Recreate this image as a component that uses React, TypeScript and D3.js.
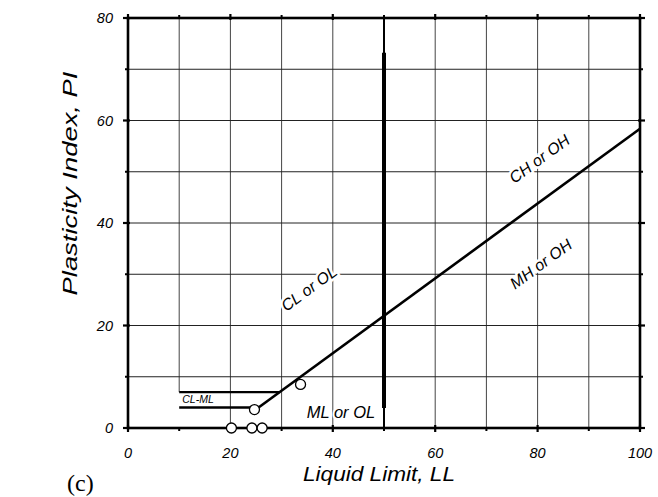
import React from "react";
import * as d3 from "d3";

const W = 658;
const H = 497;

// Axis ticks
const llMajorTicks = [0, 20, 40, 60, 80, 100];
const llMinorTicks = [10, 30, 50, 70, 90];
const piMajorTicks = [0, 20, 40, 60, 80];
const piMinorTicks = [10, 30, 50, 70];
const llGrid = [10, 20, 30, 40, 50, 60, 70, 80, 90];
const piGrid = [10, 20, 30, 40, 50, 60, 70];

// A-line (PI = 0.73 (LL - 20))
const aLineLL = [25.5, 100];
const aLinePI = [4, 58.4];

// CL-ML zone boundaries
const clmlLowLL = [10, 25.5];
const clmlLowPI = [4, 4];
const clmlHighLL = [10, 29.6];
const clmlHighPI = [7, 7];

// LL = 50 boundary (thick part)
const uLineLL = [50, 50];
const uLinePI = [73.2, 3.9];

// Sample points
const sampleLL = [20.2, 24.2, 26.2, 24.7, 33.7];
const samplePI = [0, 0, 0, 3.6, 8.5];

// Zone labels
const zoneNames = ["CL or OL", "CH or OH", "MH or OH"];
const zoneLL = [35.5, 80.5, 80.8];
const zonePI = [27, 52.3, 31.8];

const FONT = "'Liberation Sans', Arial, sans-serif";

export default function App() {
  const x = d3.scaleLinear().domain([0, 100]).range([128, 640]);
  const y = d3.scaleLinear().domain([0, 80]).range([428, 18]);
  const line = d3
    .line<[number, number]>()
    .x((d) => x(d[0]))
    .y((d) => y(d[1]));
  const pairs = (a: number[], b: number[]) =>
    a.map((v, i) => [v, b[i]] as [number, number]);

  const angle = (-Math.atan(0.73 * ((y(0) - y(1)) / (x(1) - x(0)))) * 180) / Math.PI;

  return (
    <svg
      width={W}
      height={H}
      style={{ position: "absolute", left: 0, top: 0, background: "#fff" }}
    >
      <rect x={0} y={0} width={W} height={H} fill="#fff" />
      {/* grid */}
      {llGrid.map((v) => (
        <line
          key={"gx" + v}
          x1={x(v)}
          x2={x(v)}
          y1={y(80)}
          y2={v === 10 ? y(7) : y(0)}
          stroke={v === 50 ? "#000" : "#444"}
          strokeWidth={v === 50 ? 2 : 1}
        />
      ))}
      {piGrid.map((v) => (
        <line
          key={"gy" + v}
          x1={x(0)}
          x2={x(100)}
          y1={y(v)}
          y2={y(v)}
          stroke="#222"
          strokeWidth={1}
        />
      ))}
      {/* zone labels with white knock-out */}
      {zoneNames.map((t, i) => (
        <text
          key={t}
          transform={`translate(${x(zoneLL[i])},${y(zonePI[i])}) rotate(${angle})`}
          textAnchor="middle"
          dominantBaseline="middle"
          fontFamily={FONT}
          fontStyle="italic"
          fontSize={16}
          fill="#000"
          stroke="#fff"
          strokeWidth={5}
          paintOrder="stroke"
        >
          {t}
        </text>
      ))}
      <text
        x={x(41.6)}
        y={y(1.9)}
        textAnchor="middle"
        fontFamily={FONT}
        fontStyle="italic"
        fontSize={16.5}
        fill="#000"
        stroke="#fff"
        strokeWidth={4}
        paintOrder="stroke"
      >
        ML or OL
      </text>
      {/* U-line thick part */}
      <path d={line(pairs(uLineLL, uLinePI)) || ""} stroke="#000" strokeWidth={4} fill="none" />
      {/* A-line and CL-ML */}
      <path d={line(pairs(aLineLL, aLinePI)) || ""} stroke="#000" strokeWidth={2.6} fill="none" />
      <path d={line(pairs(clmlLowLL, clmlLowPI)) || ""} stroke="#000" strokeWidth={2.4} fill="none" />
      <path d={line(pairs(clmlHighLL, clmlHighPI)) || ""} stroke="#000" strokeWidth={2.4} fill="none" />
      <text
        x={x(10.6)}
        y={y(4.8)}
        fontFamily={FONT}
        fontStyle="italic"
        fontSize={10.5}
        fill="#000"
      >
        CL-ML
      </text>
      {/* frame */}
      <rect
        x={x(0)}
        y={y(80)}
        width={x(100) - x(0)}
        height={y(0) - y(80)}
        fill="none"
        stroke="#000"
        strokeWidth={2.6}
      />
      {/* ticks */}
      {llMajorTicks.map((v) => (
        <g key={"tx" + v}>
          <line x1={x(v)} x2={x(v)} y1={y(0) - 3} y2={y(0) + 4} stroke="#000" strokeWidth={2.2} />
          <line x1={x(v)} x2={x(v)} y1={y(80) - 4} y2={y(80) + 2} stroke="#000" strokeWidth={2.2} />
        </g>
      ))}
      {llMinorTicks.map((v) => (
        <g key={"tmx" + v}>
          <line x1={x(v)} x2={x(v)} y1={y(0)} y2={y(0) + 3} stroke="#000" strokeWidth={2} />
          <line x1={x(v)} x2={x(v)} y1={y(80) - 3} y2={y(80)} stroke="#000" strokeWidth={2} />
        </g>
      ))}
      {piMajorTicks.map((v) => (
        <g key={"ty" + v}>
          <line x1={x(0) - 5} x2={x(0) + 2} y1={y(v)} y2={y(v)} stroke="#000" strokeWidth={2.2} />
          <line x1={x(100) - 2} x2={x(100) + 5} y1={y(v)} y2={y(v)} stroke="#000" strokeWidth={2.2} />
        </g>
      ))}
      {piMinorTicks.map((v) => (
        <g key={"tmy" + v}>
          <line x1={x(0) - 3} x2={x(0)} y1={y(v)} y2={y(v)} stroke="#000" strokeWidth={2} />
          <line x1={x(100)} x2={x(100) + 3} y1={y(v)} y2={y(v)} stroke="#000" strokeWidth={2} />
        </g>
      ))}
      {/* sample points */}
      {sampleLL.map((v, i) => (
        <circle
          key={"p" + i}
          cx={x(v)}
          cy={y(samplePI[i])}
          r={5}
          fill="#fff"
          stroke="#000"
          strokeWidth={1.3}
        />
      ))}
      {/* tick labels */}
      {llMajorTicks.map((v) => (
        <text
          key={"lx" + v}
          x={x(v)}
          y={458}
          textAnchor="middle"
          fontFamily={FONT}
          fontStyle="italic"
          fontSize={14.5}
          fill="#000"
        >
          {v}
        </text>
      ))}
      {piMajorTicks.map((v) => (
        <text
          key={"ly" + v}
          x={113}
          y={y(v) + 5}
          textAnchor="end"
          fontFamily={FONT}
          fontStyle="italic"
          fontSize={14.5}
          fill="#000"
        >
          {v}
        </text>
      ))}
      {/* axis titles */}
      <text
        x={379}
        y={480.5}
        textAnchor="middle"
        fontFamily={FONT}
        fontStyle="italic"
        fontSize={20}
        textLength={152}
        lengthAdjust="spacingAndGlyphs"
        fill="#000"
      >
        Liquid Limit, LL
      </text>
      <text
        transform="translate(77,183.5) rotate(-90)"
        textAnchor="middle"
        fontFamily={FONT}
        fontStyle="italic"
        fontSize={21}
        textLength={224}
        lengthAdjust="spacingAndGlyphs"
        fill="#000"
      >
        Plasticity Index, PI
      </text>
      <text
        x={67}
        y={491}
        fontFamily="'Liberation Serif', 'Times New Roman', serif"
        fontSize={24}
        fill="#000"
      >
        (c)
      </text>
    </svg>
  );
}
